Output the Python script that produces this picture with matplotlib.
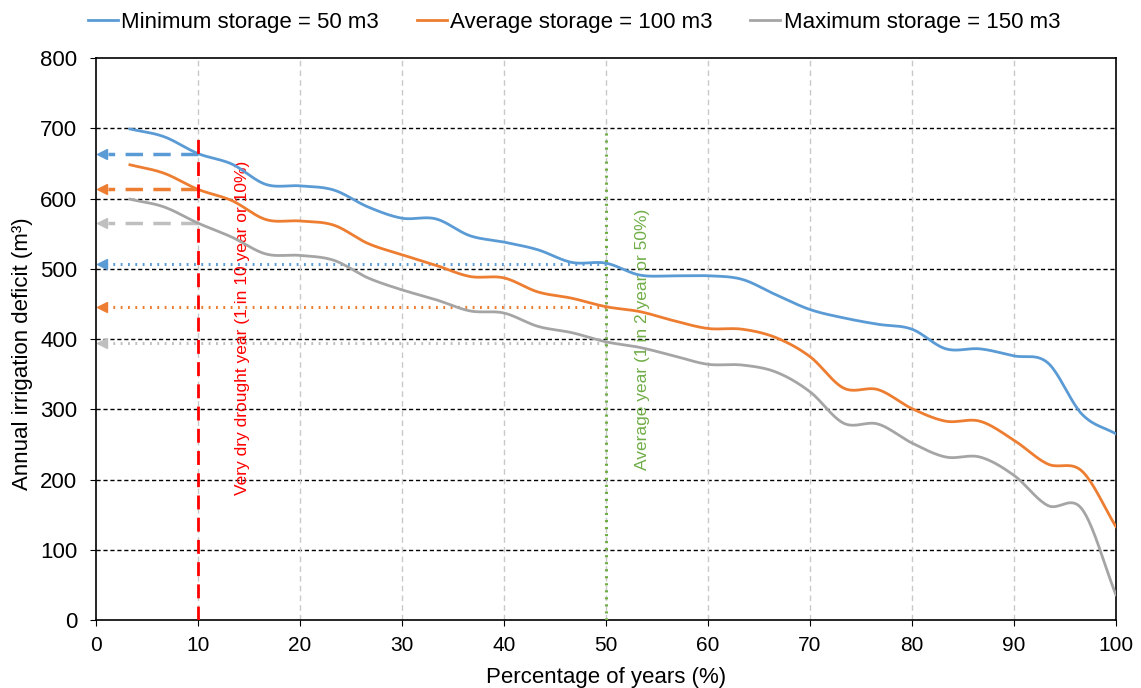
import numpy as np
import matplotlib
matplotlib.use('Agg')
import matplotlib.pyplot as plt

plt.rcParams['font.family'] = ['Liberation Sans', 'DejaVu Sans']

# percentage of years (30 ranked years)
pct = [3.33, 6.67, 10, 13.33, 16.67, 20, 23.33, 26.67, 30, 33.33,
       36.67, 40, 43.33, 46.67, 50, 53.33, 56.67, 60, 63.33, 66.67,
       70, 73.33, 76.67, 80, 83.33, 86.67, 90, 93.33, 96.67, 100]

min_storage = [699, 688, 664, 649, 620, 618, 612, 588, 572, 571,
               547, 538, 527, 509, 508, 491, 490, 490, 485, 463,
               442, 430, 421, 414, 386, 386, 376, 366, 293, 265]
avg_storage = [648, 636, 613, 597, 570, 568, 562, 536, 520, 505,
               489, 487, 467, 458, 446, 439, 426, 415, 414, 402,
               375, 330, 328, 301, 283, 283, 256, 222, 212, 133]
max_storage = [599, 588, 565, 545, 521, 519, 512, 487, 470, 456,
               440, 437, 418, 409, 396, 388, 376, 364, 363, 353,
               325, 280, 279, 252, 232, 232, 206, 163, 158, 36]

names = ['Minimum storage = 50 m3', 'Average storage = 100 m3', 'Maximum storage = 150 m3']
colors = ['#5B9BD5', '#ED7D31', '#A5A5A5']

# read-off values at 10 % and 50 %
dry_vals = [664, 613, 565]
avg_vals = [507, 446, 395]
arrow_colors = ['#5B9BD5', '#ED7D31', '#BFBFBF']


def smooth(x, y, n=20):
    # catmull-rom like excel smoothed lines
    x = np.asarray(x, float)
    y = np.asarray(y, float)
    px = np.concatenate([[2 * x[0] - x[1]], x, [2 * x[-1] - x[-2]]])
    py = np.concatenate([[2 * y[0] - y[1]], y, [2 * y[-1] - y[-2]]])
    xs, ys = [], []
    t = np.linspace(0, 1, n, endpoint=False)
    for i in range(1, len(px) - 2):
        for arr, out in ((px, xs), (py, ys)):
            p0, p1, p2, p3 = arr[i - 1], arr[i], arr[i + 1], arr[i + 2]
            out.extend(0.5 * ((2 * p1) + (-p0 + p2) * t
                              + (2 * p0 - 5 * p1 + 4 * p2 - p3) * t ** 2
                              + (-p0 + 3 * p1 - 3 * p2 + p3) * t ** 3))
    xs.append(x[-1])
    ys.append(y[-1])
    return np.array(xs), np.array(ys)


fig = plt.figure(figsize=(11.41, 6.88), dpi=100)
ax = fig.add_axes([0.0841, 0.0988, 0.8939, 0.8169])

for series, name, c in zip([min_storage, avg_storage, max_storage], names, colors):
    sx, sy = smooth(pct, series)
    ax.plot(sx, sy, color=c, lw=2, label=name, zorder=4)

# reference lines
ax.plot([10, 10], [0, 695], color='#FF0000', lw=2, ls=(0, (5, 3)), zorder=5)
ax.plot([50, 50], [0, 700], color='#70AD47', lw=2.2, ls=(0, (0.7, 1.6)), zorder=5)

for v, c in zip(dry_vals, arrow_colors):
    ax.plot([10, 1.2], [v, v], color=c, lw=2.5, ls=(0, (5, 3)), zorder=3)
    ax.plot([0.6], [v], marker='<', color=c, ms=7, clip_on=False, zorder=6)
for v, c in zip(avg_vals, arrow_colors):
    ax.plot([50, 1.2], [v, v], color=c, lw=2.2, ls=(0, (0.6, 1.8)), zorder=3)
    ax.plot([0.6], [v], marker='<', color=c, ms=7, clip_on=False, zorder=6)

ax.text(14.4, 416, 'Very dry drought year (1 in 10 year or 10%)', color='#FF0000',
        rotation=90, ha='center', va='center', fontsize=12.5)
ax.text(53.6, 399, 'Average year (1 in 2 year or 50%)', color='#70AD47',
        rotation=90, ha='center', va='center', fontsize=12.5)

ax.set_xlim(0, 100)
ax.set_ylim(0, 800)
ax.set_xticks(np.arange(0, 101, 10))
ax.set_yticks(np.arange(0, 801, 100))
ax.tick_params(direction='out', length=4.5, color='black')
ax.tick_params(axis='y', labelsize=16, pad=9)
ax.tick_params(axis='x', labelsize=15, pad=7)
for y in range(100, 800, 100):
    ax.axhline(y, color='black', lw=1, ls=(0, (3, 2)), zorder=1)
for x in range(10, 100, 10):
    ax.axvline(x, color='#C8C8C8', lw=1, ls=(0, (4, 3)), zorder=1)
for s in ax.spines.values():
    s.set_color('black')
    s.set_linewidth(1.2)

ax.set_xlabel('Percentage of years (%)', fontsize=16, labelpad=9)
ax.set_ylabel('Annual irrigation deficit (m³)', fontsize=16)
ax.yaxis.set_label_coords(-0.062, 0.473)

fig.legend(loc='upper center', bbox_to_anchor=(0.503, 1.012), ncol=3, frameon=False,
           fontsize=16, handlelength=1.35, handletextpad=0.15, columnspacing=1.7)

fig.savefig('out.png', dpi=100)
